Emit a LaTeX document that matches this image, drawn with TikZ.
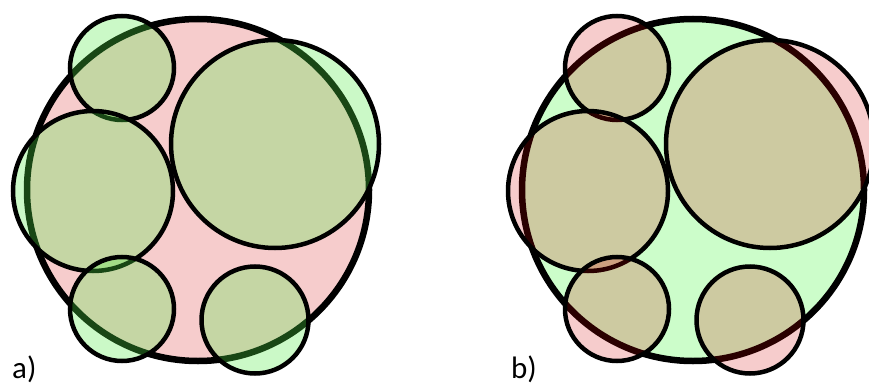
\documentclass[tikz,border=0pt]{standalone}
\usepackage{fontspec}
\setsansfont{Carlito}
\definecolor{pinkbase}{RGB}{246,204,204}
\definecolor{greenbase}{RGB}{204,253,202}
\definecolor{greentint}{RGB}{85,238,72}
\definecolor{redtint}{RGB}{210,0,0}
\tikzset{
  bigring/.style={line width=6.5pt, draw=black},
  smallring/.style={line width=4.5pt, draw=black},
  panellabel/.style={anchor=base west, inner sep=0pt, font=\sffamily\fontsize{31}{33}\selectfont},
}
\begin{document}
\begin{tikzpicture}[x=1pt,y=-1pt]
\path[use as bounding box, clip] (0,0) rectangle (869,385);
\fill[white] (0,0) rectangle (869,385);
% panel a
\begin{scope}
  \filldraw[bigring, fill=pinkbase] (198,190) circle[radius=171];
  \foreach \cx/\cy/\r in {122/68/52, 275/144/104, 93/191/80, 122/309/52, 255/320/53.5}
    \filldraw[smallring, fill=greentint, fill opacity=0.3] (\cx,\cy) circle[radius=\r];
\end{scope}
% panel b
\begin{scope}[xshift=495pt]
  \filldraw[bigring, fill=greenbase] (198,190) circle[radius=171];
  \foreach \cx/\cy/\r in {122/68/52, 275/144/104, 93/191/80, 122/309/52, 255/320/53.5}
    \filldraw[smallring, fill=redtint, fill opacity=0.2] (\cx,\cy) circle[radius=\r];
\end{scope}
\node[panellabel] (la) at (12,378) {a)};
\node[panellabel] (lb) at (511,378) {b)};
\end{tikzpicture}
\end{document}
